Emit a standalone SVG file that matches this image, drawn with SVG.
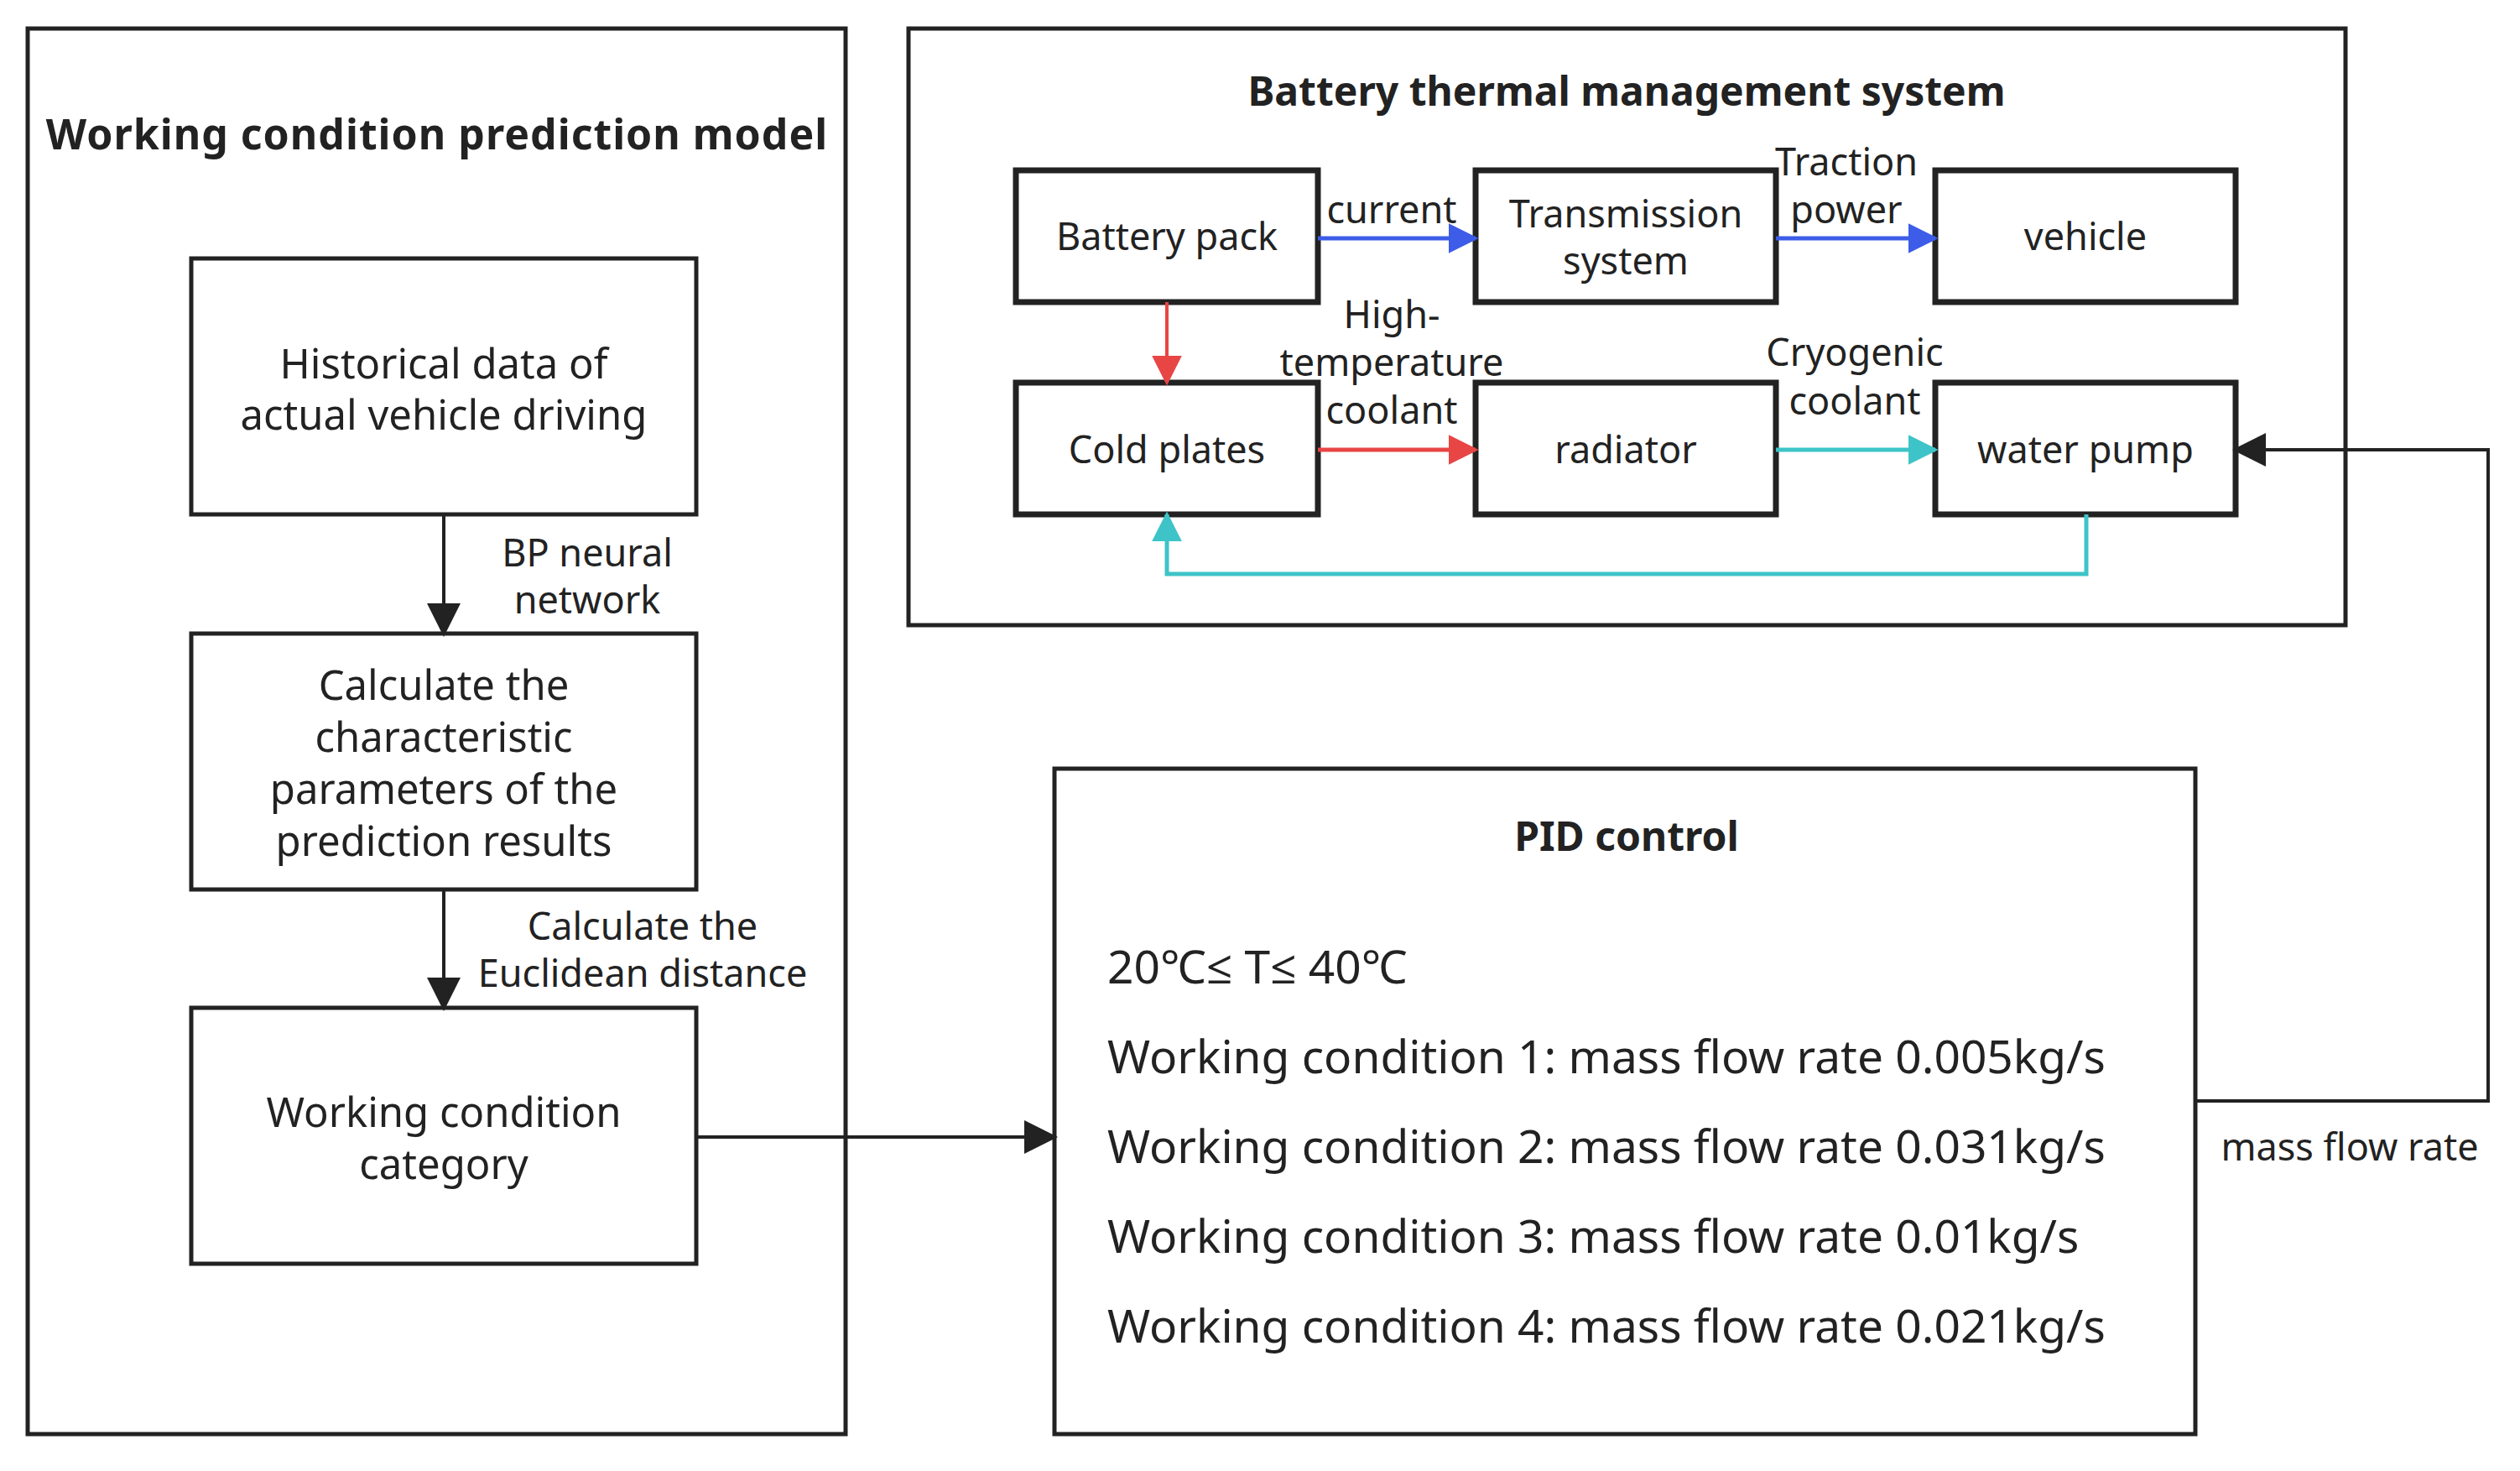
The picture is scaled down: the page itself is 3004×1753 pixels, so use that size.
<svg xmlns="http://www.w3.org/2000/svg" width="3004" height="1753" viewBox="0 0 3004 1753">
<style>
text{font-family:"Noto Sans","Open Sans","DejaVu Sans",sans-serif;fill:#222;text-anchor:middle}
.t{font-weight:bold;font-size:48px}
.tl{font-weight:bold;font-size:50px;letter-spacing:1px}
.n{font-size:49px}
.s{font-size:45px}
.l{font-size:45px}
.p{font-size:55px;text-anchor:start}
.box{fill:#fff;stroke:#222;stroke-width:5}
.small{fill:#fff;stroke:#222;stroke-width:7}
.k{fill:none;stroke:#222;stroke-width:4}
</style>
<defs>
<marker id="ab" viewBox="0 0 10 10" refX="9" refY="5" markerWidth="36" markerHeight="36" orient="auto" markerUnits="userSpaceOnUse"><path d="M0,0L10,5L0,10z" fill="#3d5ce8"/></marker>
<marker id="ar" viewBox="0 0 10 10" refX="9" refY="5" markerWidth="36" markerHeight="36" orient="auto" markerUnits="userSpaceOnUse"><path d="M0,0L10,5L0,10z" fill="#e84545"/></marker>
<marker id="ac" viewBox="0 0 10 10" refX="9" refY="5" markerWidth="36" markerHeight="36" orient="auto" markerUnits="userSpaceOnUse"><path d="M0,0L10,5L0,10z" fill="#3ec4c8"/></marker>
<marker id="ak2" viewBox="0 0 10 10" refX="9" refY="5" markerWidth="40" markerHeight="40" orient="auto" markerUnits="userSpaceOnUse"><path d="M0,0L10,5L0,10z" fill="#222"/></marker>
</defs>
<rect width="3004" height="1753" fill="#fff"/>
<g id="prediction-model">
<rect class="box" x="33" y="34" width="975" height="1675"/>
<text class="tl" x="521" y="178">Working condition prediction model</text>
</g>
<g id="historical"><rect class="box" x="228" y="308" width="602" height="305"/>
<text class="n" x="529" y="451">Historical data of</text><text class="n" x="529" y="512">actual vehicle driving</text></g>
<g id="calc"><rect class="box" x="228" y="755" width="602" height="305"/>
<text class="n" x="529" y="834">Calculate the</text><text class="n" x="529" y="896">characteristic</text><text class="n" x="529" y="958">parameters of the</text><text class="n" x="529" y="1020">prediction results</text></g>
<g id="category"><rect class="box" x="228" y="1201" width="602" height="305"/>
<text class="n" x="529" y="1343">Working condition</text><text class="n" x="529" y="1405">category</text></g>
<g id="btms">
<rect class="box" x="1083" y="34" width="1713" height="711"/>
<text class="t" x="1939" y="126">Battery thermal management system</text>
</g>
<g id="battery"><rect class="small" x="1211" y="203" width="360" height="157"/><text class="s" x="1391" y="298">Battery pack</text></g>
<g id="transmission"><rect class="small" x="1759" y="203" width="358" height="157"/><text class="s" x="1938" y="271">Transmission</text><text class="s" x="1938" y="327">system</text></g>
<g id="vehicle"><rect class="small" x="2307" y="203" width="358" height="157"/><text class="s" x="2486" y="298">vehicle</text></g>
<g id="coldplates"><rect class="small" x="1211" y="456" width="360" height="157"/><text class="s" x="1391" y="552">Cold plates</text></g>
<g id="radiator"><rect class="small" x="1759" y="456" width="358" height="157"/><text class="s" x="1938" y="552">radiator</text></g>
<g id="pump"><rect class="small" x="2307" y="456" width="358" height="157"/><text class="s" x="2486" y="552">water pump</text></g>
<g id="pid">
<rect class="box" x="1257" y="916" width="1360" height="793"/>
<text class="t" x="1939" y="1014">PID control</text>
<text class="p" x="1320" y="1172">20℃≤ T≤ 40℃</text>
<text class="p" x="1320" y="1279">Working condition 1: mass flow rate 0.005kg/s</text>
<text class="p" x="1320" y="1386">Working condition 2: mass flow rate 0.031kg/s</text>
<text class="p" x="1320" y="1493">Working condition 3: mass flow rate 0.01kg/s</text>
<text class="p" x="1320" y="1600">Working condition 4: mass flow rate 0.021kg/s</text>
</g>
<g id="connectors">
<path class="k" d="M529,613V755" marker-end="url(#ak2)"/>
<path class="k" d="M529,1060V1201" marker-end="url(#ak2)"/>
<path class="k" d="M830,1355H1257" marker-end="url(#ak2)"/>
<path class="k" d="M2617,1312H2966V536H2665" marker-end="url(#ak2)"/>
<path d="M1571,284H1759" stroke="#3d5ce8" stroke-width="5" fill="none" marker-end="url(#ab)"/>
<path d="M2117,284H2307" stroke="#3d5ce8" stroke-width="5" fill="none" marker-end="url(#ab)"/>
<path d="M1391,360V456" stroke="#e84545" stroke-width="4" fill="none" marker-end="url(#ar)"/>
<path d="M1571,536H1759" stroke="#e84545" stroke-width="5" fill="none" marker-end="url(#ar)"/>
<path d="M2117,536H2307" stroke="#3ec4c8" stroke-width="5" fill="none" marker-end="url(#ac)"/>
<path d="M2487,613V684H1391V613" stroke="#3ec4c8" stroke-width="5" fill="none" marker-end="url(#ac)"/>
<text class="l" x="700" y="675">BP neural</text><text class="l" x="700" y="731">network</text>
<text class="l" x="766" y="1120">Calculate the</text><text class="l" x="766" y="1176">Euclidean distance</text>
<text class="l" x="1659" y="266">current</text>
<text class="l" x="2201" y="209">Traction</text><text class="l" x="2201" y="266">power</text>
<text class="l" x="1659" y="391">High-</text><text class="l" x="1659" y="448">temperature</text><text class="l" x="1659" y="505">coolant</text>
<text class="l" x="2211" y="436">Cryogenic</text><text class="l" x="2211" y="494">coolant</text>
<text class="l" x="2801" y="1383">mass flow rate</text>
</g>
</svg>
